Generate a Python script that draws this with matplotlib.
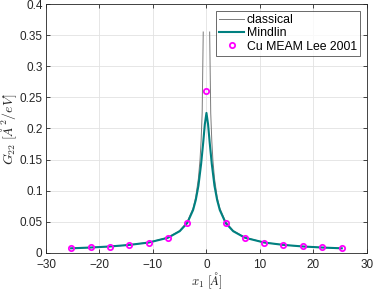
import matplotlib
matplotlib.use("Agg")
import matplotlib.pyplot as plt
import numpy as np

plt.rcParams['font.family'] = ['Liberation Sans', 'DejaVu Sans']
plt.rcParams['mathtext.fontset'] = 'cm'

# classical solution (singular at the core, NaN splits the two branches)
x_cl = [-25.3, -21.6, -18.0, -14.4, -10.8, -7.2, -5.0, -3.6, -2.5, -2.0, -1.5,
        -1.2, -1.0, -0.8, -0.6, np.nan,
        0.6, 0.8, 1.0, 1.2, 1.5, 2.0, 2.5, 3.6, 5.0, 7.2, 10.8, 14.4, 18.0,
        21.6, 25.3]
g_cl = [0.0075, 0.0088, 0.0105, 0.0130, 0.0170, 0.0250, 0.0360, 0.0500, 0.0720,
        0.0900, 0.1200, 0.1500, 0.1800, 0.2250, 0.3550, np.nan,
        0.3550, 0.2250, 0.1800, 0.1500, 0.1200, 0.0900, 0.0720, 0.0500, 0.0360,
        0.0250, 0.0170, 0.0130, 0.0105, 0.0088, 0.0075]

# Mindlin gradient solution (regular at the core)
x_md = [-25.3, -21.6, -18.0, -14.4, -10.8, -7.2, -5.0, -3.6, -2.5, -2.0, -1.5,
        -1.0, -0.6, -0.3, 0.0, 0.3, 0.6, 1.0, 1.5, 2.0, 2.5, 3.6, 5.0, 7.2,
        10.8, 14.4, 18.0, 21.6, 25.3]
g_md = [0.0075, 0.0088, 0.0105, 0.0130, 0.0168, 0.0245, 0.0350, 0.0480, 0.0690,
        0.0850, 0.1080, 0.1430, 0.1780, 0.2070, 0.2250, 0.2070, 0.1780, 0.1430,
        0.1080, 0.0850, 0.0690, 0.0480, 0.0350, 0.0245, 0.0168, 0.0130, 0.0105,
        0.0088, 0.0075]

# atomistic data
x_at = [-25.3, -21.6, -18.0, -14.4, -10.8, -7.2, -3.6, 0.0, 3.6, 7.2, 10.8,
        14.4, 18.0, 21.6, 25.3]
g_at = [0.0075, 0.0090, 0.0102, 0.0127, 0.0164, 0.0243, 0.0476, 0.2600, 0.0476,
        0.0243, 0.0164, 0.0127, 0.0106, 0.0090, 0.0075]

fig = plt.figure(figsize=(3.74, 2.90), dpi=100)
ax = fig.add_axes([0.123, 0.1276, 0.858, 0.8586])

ax.plot(x_cl, g_cl, color='#7a7a7a', lw=0.7, label='classical')
ax.plot(x_md, g_md, color='#008080', lw=1.5, label='Mindlin')
ax.plot(x_at, g_at, 'o', ls='none', mfc='none', mec='#ff00ff', mew=1.3,
        ms=3.8, label='Cu MEAM Lee 2001')

ax.set_xlim(-30, 30)
ax.set_ylim(0, 0.4)
ax.set_xticks(np.arange(-30, 31, 10))
ax.set_yticks(np.arange(0, 0.401, 0.05))
ax.set_yticklabels(['0', '0.05', '0.1', '0.15', '0.2', '0.25', '0.3', '0.35', '0.4'])
ax.grid(True, color='#e2e2e2', lw=0.6)
ax.set_axisbelow(True)
ax.tick_params(direction='in', length=3, width=0.6, top=True, right=True,
               labelsize=8.5, colors='#262626')
ax.tick_params(axis='y', pad=2.5)
ax.tick_params(axis='x', pad=4.5)
for s in ax.spines.values():
    s.set_color('#262626')
    s.set_linewidth(0.6)

ax.set_xlabel(r'$x_1\ [\AA]$', fontsize=9.2, color='#262626', labelpad=-0.8)
ax.set_ylabel(r'$G_{22}\ [\AA^2/eV]$', fontsize=10, color='#262626', labelpad=0)

leg = ax.legend(loc='upper right', fontsize=8.8, frameon=True, fancybox=False,
                edgecolor='#262626', borderpad=0.25, handlelength=2.0,
                handletextpad=0.25, labelspacing=0.12, borderaxespad=0.55)
leg.get_frame().set_linewidth(0.6)

fig.savefig('out.png', dpi=100)
